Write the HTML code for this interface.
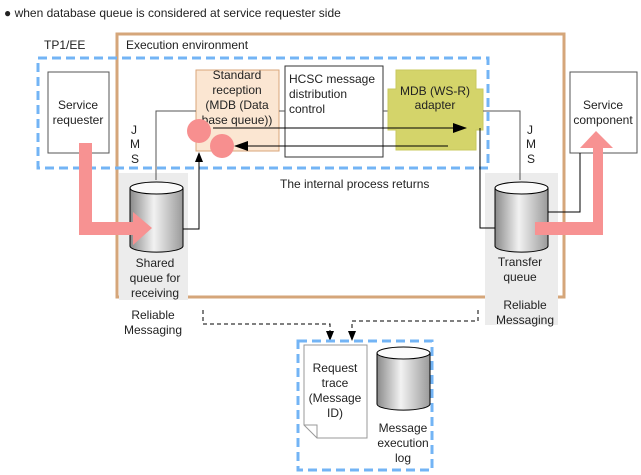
<!DOCTYPE html>
<html><head><meta charset="utf-8"><style>body{margin:0;background:#fff}svg{display:block}text{font-family:"Liberation Sans",Arial,sans-serif;font-size:12px;fill:#222}</style></head><body>
<svg width="641" height="475" viewBox="0 0 641 475" xmlns="http://www.w3.org/2000/svg">
<defs>
<linearGradient id="cg" x1="0" x2="1" y1="0" y2="0"><stop offset="0" stop-color="#8a8a8a"/><stop offset="0.45" stop-color="#f2f2f2"/><stop offset="1" stop-color="#9a9a9a"/></linearGradient>
<marker id="ah" markerWidth="10" markerHeight="8" refX="9" refY="4" orient="auto" markerUnits="userSpaceOnUse"><path d="M0,0L10,4L0,8z" fill="#000"/></marker>
<marker id="ah2" markerWidth="14" markerHeight="10" refX="13" refY="5" orient="auto" markerUnits="userSpaceOnUse"><path d="M0,0L14,5L0,10z" fill="#000"/></marker>
</defs>
<text x="4" y="17" font-size="11">● when database queue is considered at service requester side</text>
<text x="44" y="49">TP1/EE</text>
<rect x="117" y="34" width="447" height="263" fill="none" stroke="#D5A67A" stroke-width="3"/>
<text x="126" y="49">Execution environment</text>
<rect x="119" y="173" width="69" height="127" fill="#ececec"/>
<rect x="485" y="173" width="73" height="152" fill="#ececec"/>
<rect x="38" y="58" width="450" height="110" fill="none" stroke="#73B4F5" stroke-width="3" stroke-dasharray="9,5"/>
<rect x="48" y="72" width="61" height="81" fill="#fff" stroke="#555"/>
<text x="78" y="109" text-anchor="middle">Service</text><text x="78" y="124" text-anchor="middle">requester</text>
<rect x="196" y="70" width="83" height="81" fill="#FBE6D2" stroke="#D9A67A"/>
<text x="237" y="79" text-anchor="middle">Standard</text><text x="237" y="94" text-anchor="middle">reception</text><text x="237" y="109" text-anchor="middle">(MDB (Data</text><text x="237" y="124" text-anchor="middle">base queue))</text>
<rect x="285" y="66" width="98" height="91" fill="#fff" stroke="#333"/>
<text x="289" y="83">HCSC message</text><text x="289" y="98">distribution</text><text x="289" y="113">control</text>
<line x1="279" y1="111" x2="285" y2="111" stroke="#555"/><line x1="383" y1="111" x2="388" y2="111" stroke="#555"/>
<path d="M396,70H476V89H483V130H476V150H396V130H388V89H396Z" fill="#D4D46A" stroke="#C9C95E"/>
<text x="435" y="95" text-anchor="middle">MDB (WS-R)</text><text x="435" y="109" text-anchor="middle">adapter</text>
<circle cx="199" cy="131" r="12" fill="#F78F8F"/><circle cx="222" cy="146" r="12" fill="#F78F8F"/>
<line x1="213" y1="128" x2="466" y2="128" stroke="#000" marker-end="url(#ah2)"/>
<line x1="448" y1="146" x2="235" y2="146" stroke="#000" marker-end="url(#ah2)"/>
<polyline points="156,180 156,111 196,111" fill="none" stroke="#555"/>
<polyline points="167,229 199,229 199,153" fill="none" stroke="#000" marker-end="url(#ah)"/>
<text x="131" y="134">J</text><text x="130" y="148">M</text><text x="131" y="163">S</text>
<text x="527" y="134">J</text><text x="526" y="148">M</text><text x="527" y="163">S</text>
<polyline points="483,111 520,111 520,180" fill="none" stroke="#555"/>
<polyline points="480,128 480,228 515,228" fill="none" stroke="#000" marker-end="url(#ah2)"/>
<rect x="570" y="72" width="67" height="81" fill="#fff" stroke="#555"/>
<text x="603" y="109" text-anchor="middle">Service</text><text x="603" y="124" text-anchor="middle">component</text>
<polyline points="548,212 580,212 580,153" fill="none" stroke="#000"/>
<g stroke="#000"><path d="M130,188V246A26,6 0 0 0 183,246V188" fill="url(#cg)"/><ellipse cx="156.5" cy="188" rx="26.5" ry="6" fill="#fafafa"/></g>
<g stroke="#000"><path d="M495,188V246A26,6 0 0 0 548,246V188" fill="url(#cg)"/><ellipse cx="521.5" cy="188" rx="26.5" ry="6" fill="#fafafa"/></g>
<path d="M79,143H92V222H133V212L152,228L133,245V235H79Z" fill="#F79292"/>
<path d="M535,222H593V148H580L596,131L613,148H603V235H535Z" fill="#F79292"/>
<text x="280" y="188">The internal process returns</text>
<text x="155" y="267" text-anchor="middle">Shared</text><text x="155" y="282" text-anchor="middle">queue for</text><text x="155" y="297" text-anchor="middle">receiving</text>
<text x="153" y="319" text-anchor="middle">Reliable</text><text x="153" y="334" text-anchor="middle">Messaging</text>
<text x="520" y="266" text-anchor="middle">Transfer</text><text x="520" y="281" text-anchor="middle">queue</text>
<text x="525" y="309" text-anchor="middle">Reliable</text><text x="525" y="324" text-anchor="middle">Messaging</text>
<polyline points="203,310 203,324 330,324 330,340" fill="none" stroke="#000" stroke-dasharray="4,3" marker-end="url(#ah)"/>
<polyline points="478,310 478,321 352,321 352,340" fill="none" stroke="#000" stroke-dasharray="4,3" marker-end="url(#ah)"/>
<rect x="298" y="341" width="134" height="129" fill="none" stroke="#73B4F5" stroke-width="3" stroke-dasharray="9,5"/>
<path d="M304,345H367V438H317L304,425Z" fill="#fff" stroke="#999"/><path d="M304,425H317V438" fill="none" stroke="#999"/>
<text x="335" y="372" text-anchor="middle">Request</text><text x="335" y="387" text-anchor="middle">trace</text><text x="335" y="402" text-anchor="middle">(Message</text><text x="335" y="417" text-anchor="middle">ID)</text>
<g stroke="#000"><path d="M377,353V404A26,6 0 0 0 430,404V353" fill="url(#cg)"/><ellipse cx="403.5" cy="353" rx="26.5" ry="6" fill="#fafafa"/></g>
<text x="403" y="432" text-anchor="middle">Message</text><text x="403" y="447" text-anchor="middle">execution</text><text x="403" y="462" text-anchor="middle">log</text>
</svg>
</body></html>
